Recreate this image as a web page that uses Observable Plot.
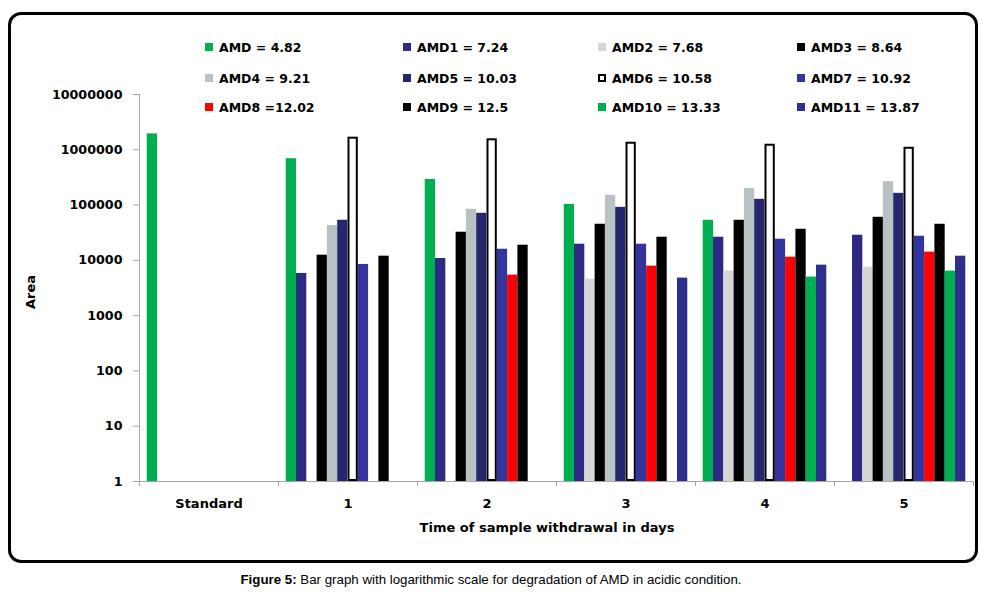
<!DOCTYPE html>
<html>
<head>
<meta charset="utf-8">
<script src="https://cdn.jsdelivr.net/npm/d3@7"></script>
<script src="https://cdn.jsdelivr.net/npm/@observablehq/plot@0.6"></script>
<style>
  html, body { margin: 0; padding: 0; background: #fff; }
  body { width: 984px; height: 611px; position: relative; overflow: hidden; font-family: "DejaVu Sans", sans-serif; }
  #chart { position: absolute; left: 0; top: 0; }
  #box { position: absolute; left: 8px; top: 12px; width: 970px; height: 551px; box-sizing: border-box; border: 3px solid #000; border-radius: 13px; pointer-events: none; }
  .lg { position: absolute; height: 16px; display: flex; align-items: center; font-weight: bold; font-size: 12.5px; white-space: nowrap; color: #000; }
  .lg .sw { width: 8px; height: 8px; margin-right: 6px; box-sizing: border-box; }
  .ttl { position: absolute; left: 0; top: 0; font-weight: bold; font-size: 13px; white-space: nowrap; color: #000; }
  #caption { position: absolute; left: 0; top: 0; font-family: "Liberation Sans", Arial, sans-serif; font-size: 13.3px; white-space: nowrap; color: #000; transform: translate(491px, 579px) translate(-50%, -50%); }
</style>
</head>
<body>
<div id="chart"></div>
<div id="legend"></div>
<div class="ttl" id="ylabel">Area</div>
<div class="ttl" id="xlabel">Time of sample withdrawal in days</div>
<div id="box"></div>
<div id="caption"><b>Figure 5:</b> Bar graph with logarithmic scale for degradation of AMD in acidic condition.</div>
<script>
// ---- data ----
const categories = ["Standard", "1", "2", "3", "4", "5"];
const series = ["AMD", "AMD1", "AMD2", "AMD3", "AMD4", "AMD5", "AMD6", "AMD7", "AMD8", "AMD9", "AMD10", "AMD11"];
const seriesLabels = ["AMD = 4.82", "AMD1 = 7.24", "AMD2 = 7.68", "AMD3 = 8.64", "AMD4 = 9.21", "AMD5 = 10.03",
                      "AMD6 = 10.58", "AMD7 = 10.92", "AMD8 =12.02", "AMD9 = 12.5", "AMD10 = 13.33", "AMD11 = 13.87"];
const colors = ["#00b050", "#2e2a84", "#d6d6d6", "#000000", "#b8c2c2", "#26266e",
                "#ffffff", "#3434a0", "#ff0000", "#000000", "#00b050", "#2e2e8c"];
const yTicks = [1, 10, 100, 1000, 10000, 100000, 1000000, 10000000];

// values per series, one per category (null = no bar)
const vAMD   = [1940000, 690000, 291000, 103000, 53100, null];
const vAMD1  = [null, 5800, 10800, 19600, 26200, 28500];
const vAMD2  = [null, null, null, 4580, 6390, 7540];
const vAMD3  = [null, 12400, 32300, 45000, 53100, 60100];
const vAMD4  = [null, 42600, 83800, 150000, 200000, 265000];
const vAMD5  = [null, 53100, 71000, 91000, 127000, 163000];
const vAMD6  = [null, 1690000, 1580000, 1370000, 1260000, 1110000];
const vAMD7  = [null, 8430, 15900, 19600, 24100, 27300];
const vAMD8  = [null, null, 5410, 7860, 11400, 14100];
const vAMD9  = [null, 11900, 18800, 26200, 36500, 45000];
const vAMD10 = [null, null, null, null, 4980, 6390];
const vAMD11 = [null, null, null, 4780, 8190, 11900];
const values = [vAMD, vAMD1, vAMD2, vAMD3, vAMD4, vAMD5, vAMD6, vAMD7, vAMD8, vAMD9, vAMD10, vAMD11];

const data = series.flatMap((s, i) => values[i].map((v, j) => ({series: s, category: categories[j], value: v})))
  .filter(d => d.value != null);

// ---- layout ----
const W = 984, H = 560, ML = 139, MR = 11, MT = 94, MB = 79;
const outerPad = 0.75;
const bw = (W - ML - MR) / categories.length;
const step = bw / (series.length + 2 * outerPad);
const axisGray = "#a6a6a6";

const chart = Plot.plot({
  width: W, height: H,
  marginLeft: ML, marginRight: MR, marginTop: MT, marginBottom: MB,
  style: {background: "transparent", fontFamily: "DejaVu Sans, sans-serif", fontWeight: "bold", fontSize: "12.7px", color: "black", overflow: "visible"},
  fx: {domain: categories, paddingInner: 0, paddingOuter: 0, round: false, label: null},
  x: {domain: series, paddingInner: 0, paddingOuter: outerPad, round: false, axis: null},
  y: {type: "log", domain: [1, 1e7], label: null},
  color: {domain: series, range: colors},
  marks: [
    Plot.barY(data, {fx: "category", x: "series", y1: 1, y2: "value", fill: "series"}),
    Plot.barY(data.filter(d => d.series === "AMD6"), {fx: "category", x: "series", y1: 1, y2: "value", fill: "white", stroke: "black", strokeWidth: 2, inset: 1}),
    Plot.ruleY([1], {stroke: axisGray}),
    Plot.ruleX(["Standard"], {fx: d => d, x: () => series[0], y1: 1, y2: 1e7, dx: -(0.5 + outerPad) * step, stroke: axisGray}),
    Plot.axisY({ticks: yTicks, tickFormat: d3.format("d"), tickSize: 6, tickPadding: 11, stroke: axisGray, fill: "black", label: null}),
    Plot.axisFx({anchor: "bottom", tickSize: 0, tickPadding: 17, label: null, fontSize: 13}),
    Plot.axisFx({anchor: "bottom", text: null, tickSize: 5, dx: -bw / 2, stroke: axisGray, label: null}),
    Plot.axisFx({anchor: "bottom", ticks: [categories[categories.length - 1]], text: null, tickSize: 5, dx: bw / 2, stroke: axisGray, label: null})
  ]
});
document.getElementById("chart").append(chart);

// ---- legend ----
const colX = [205, 403, 598, 797];
const rowY = [47, 78, 107];
const legend = document.getElementById("legend");
series.forEach((s, i) => {
  const item = document.createElement("div");
  item.className = "lg";
  item.style.left = colX[i % 4] + "px";
  item.style.top = (rowY[Math.floor(i / 4)] - 8) + "px";
  const sw = document.createElement("span");
  sw.className = "sw";
  sw.style.background = colors[i];
  if (s === "AMD6") sw.style.border = "2px solid #000";
  item.append(sw, document.createTextNode(seriesLabels[i]));
  legend.append(item);
});

document.getElementById("ylabel").style.transform = "translate(30px, 292px) translate(-50%, -50%) rotate(-90deg)";
document.getElementById("xlabel").style.transform = "translate(547px, 527px) translate(-50%, -50%)";
</script>
</body>
</html>
